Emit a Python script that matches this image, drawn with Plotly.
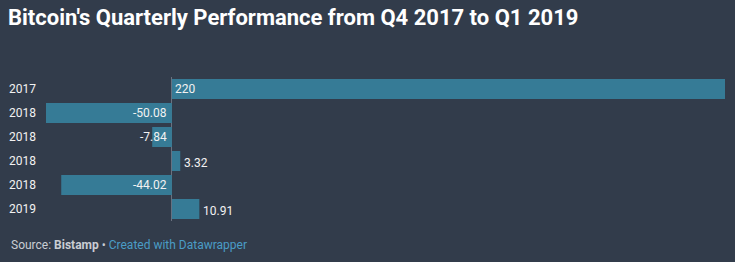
import plotly.graph_objects as go

categories = ["2017", "2018", "2018", "2018", "2018", "2019"]
values = [220, -50.08, -7.84, 3.32, -44.02, 10.91]
value_labels = ["220", "-50.08", "-7.84", "3.32", "-44.02", "10.91"]

BG = "#323c4b"
BAR = "#367b96"
TXT = "#f2f2f2"
FONT = "Roboto"

W, H = 735, 262
L, R, T, B = 46, 10, 77, 41
pw, ph = W - L - R, H - T - B

pos = list(range(len(categories)))

fig = go.Figure(go.Bar(
    x=values, y=pos, orientation="h",
    marker=dict(color=BAR, line=dict(width=0)),
    hoverinfo="skip",
))

annotations = []
for i, (v, lab) in enumerate(zip(values, value_labels)):
    if v < 0:
        annotations.append(dict(x=0, y=i, xref="x", yref="y", text=lab, showarrow=False,
                                xanchor="right", xshift=-3, font=dict(color=TXT, size=12, family=FONT)))
    elif v > 30:
        annotations.append(dict(x=0, y=i, xref="x", yref="y", text=lab, showarrow=False,
                                xanchor="left", xshift=1, font=dict(color=TXT, size=12, family=FONT)))
    else:
        annotations.append(dict(x=v, y=i, xref="x", yref="y", text=lab, showarrow=False,
                                xanchor="left", xshift=2, yshift=-2, font=dict(color=TXT, size=12, family=FONT)))

annotations.append(dict(
    x=(9 - L) / pw, y=-(245 - (H - B)) / ph, xref="paper", yref="paper", showarrow=False,
    text="<span style='color:#c9cdd3'>Source: <b>Bistamp</b> • </span><span style='color:#4a9cc6'>Created with Datawrapper</span>",
    xanchor="left", yanchor="middle", font=dict(size=12, family=FONT),
))

fig.update_layout(
    template="none",
    width=W, height=H,
    margin=dict(l=L, r=R, t=T, b=B, pad=0),
    paper_bgcolor=BG, plot_bgcolor=BG,
    bargap=4 / 24,
    showlegend=False,
    title=dict(text="<b>Bitcoin's Quarterly Performance from Q4 2017 to Q1 2019</b>",
               x=8 / W, xanchor="left", xref="container", yref="container",
               y=1 - 17 / H, yanchor="middle",
               font=dict(size=22, color="#ffffff", family=FONT)),
    xaxis=dict(range=[min(values), max(values)], showgrid=False, showticklabels=False,
               showline=False, ticks="", automargin=False,
               zeroline=True, zerolinecolor="#6b7280", zerolinewidth=1, fixedrange=True),
    yaxis=dict(tickmode="array", tickvals=pos, ticktext=categories,
               showgrid=False, zeroline=False, showline=False, ticks="", ticklabelstandoff=9,
               automargin=False,
               range=[len(categories) - 0.5, -0.5],
               tickfont=dict(size=12, color=TXT, family=FONT)),
    annotations=annotations,
)

fig.write_html("out.html")
